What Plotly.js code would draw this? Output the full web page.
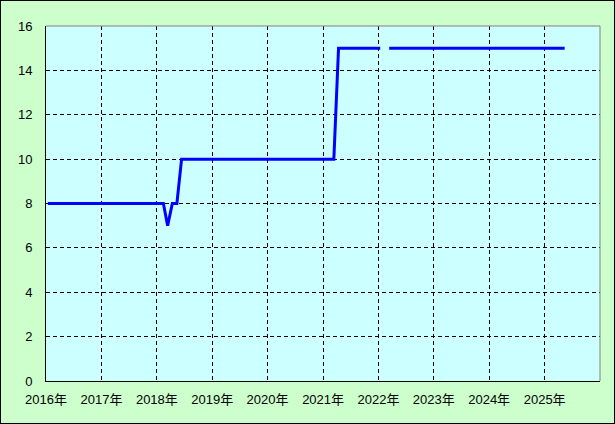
<!DOCTYPE html>
<html>
<head>
<meta charset="utf-8">
<script src="https://cdn.plot.ly/plotly-3.0.1.min.js"></script>
<style>
html,body{margin:0;padding:0;background:#ccffcc;}
#chart{width:613px;height:422px;border:1px solid #000;}
</style>
</head>
<body>
<div id="chart"></div>
<script>
// monthly values, one array per year (Jan..Dec); null = missing
const v2016 = [8,8,8,8,8,8,8,8,8,8,8,8];
const v2017 = [8,8,8,8,8,8,8,8,8,8,8,8];
const v2018 = [8,8,7,8,8,10,10,10,10,10,10,10];
const v2019 = [10,10,10,10,10,10,10,10,10,10,10,10];
const v2020 = [10,10,10,10,10,10,10,10,10,10,10,10];
const v2021 = [10,10,10,15,15,15,15,15,15,15,15,15];
const v2022 = [15,null,15,15,15,15,15,15,15,15,15,15];
const v2023 = [15,15,15,15,15,15,15,15,15,15,15,15];
const v2024 = [15,15,15,15,15,15,15,15,15,15,15,15];
const v2025 = [15,15,15,15,15];
const years = [2016,2017,2018,2019,2020,2021,2022,2023,2024,2025];
const yearValues = [v2016,v2017,v2018,v2019,v2020,v2021,v2022,v2023,v2024,v2025];
const xTickVals = ['2016-01-01','2017-01-01','2018-01-01','2019-01-01','2020-01-01','2021-01-01','2022-01-01','2023-01-01','2024-01-01','2025-01-01'];
const xTickText = ['2016年','2017年','2018年','2019年','2020年','2021年','2022年','2023年','2024年','2025年'];
const yTickVals = [0,2,4,6,8,10,12,14,16];

const xs = [], ys = [];
years.forEach((y, k) => {
  yearValues[k].forEach((val, m) => {
    xs.push(y + '-' + String(m + 1).padStart(2, '0') + '-13');
    ys.push(val);
  });
});

const trace = {
  x: xs, y: ys, type: 'scatter', mode: 'lines',
  line: {color: '#0000ff', width: 3},
  connectgaps: false, hoverinfo: 'skip'
};

const fnt = {family: 'Liberation Sans, Arial, "Noto Sans CJK JP", sans-serif', size: 13, color: '#000'};

const layout = {
  width: 613, height: 422,
  margin: {l: 45, r: 14, t: 25, b: 42},
  paper_bgcolor: '#ccffcc', plot_bgcolor: '#ccffff',
  showlegend: false,
  font: fnt,
  xaxis: {
    type: 'date', range: ['2016-01-01', '2026-01-01'],
    tickmode: 'array', tickvals: xTickVals, ticktext: xTickText,
    showgrid: true, gridcolor: '#000', gridwidth: 1, griddash: '4px,3px',
    showline: true, linecolor: '#000', linewidth: 1, mirror: false,
    ticks: '', ticklabelstandoff: 6, zeroline: false, fixedrange: true,
    tickfont: fnt
  },
  yaxis: {
    range: [0, 16], tickmode: 'array', tickvals: yTickVals,
    showgrid: true, gridcolor: '#000', gridwidth: 1, griddash: '4px,3px',
    showline: true, linecolor: '#000', linewidth: 1, mirror: false,
    ticks: '', ticklabelstandoff: 10, zeroline: false, fixedrange: true,
    tickfont: fnt
  },
  shapes: [
    {type: 'line', xref: 'paper', yref: 'paper', x0: 0, x1: 1, y0: 1, y1: 1, line: {color: '#808080', width: 1}, layer: 'above'},
    {type: 'line', xref: 'paper', yref: 'paper', x0: 1, x1: 1, y0: 0, y1: 1, line: {color: '#808080', width: 1}, layer: 'above'}
  ]
};

Plotly.newPlot('chart', [trace], layout, {staticPlot: true, displayModeBar: false});
</script>
</body>
</html>
